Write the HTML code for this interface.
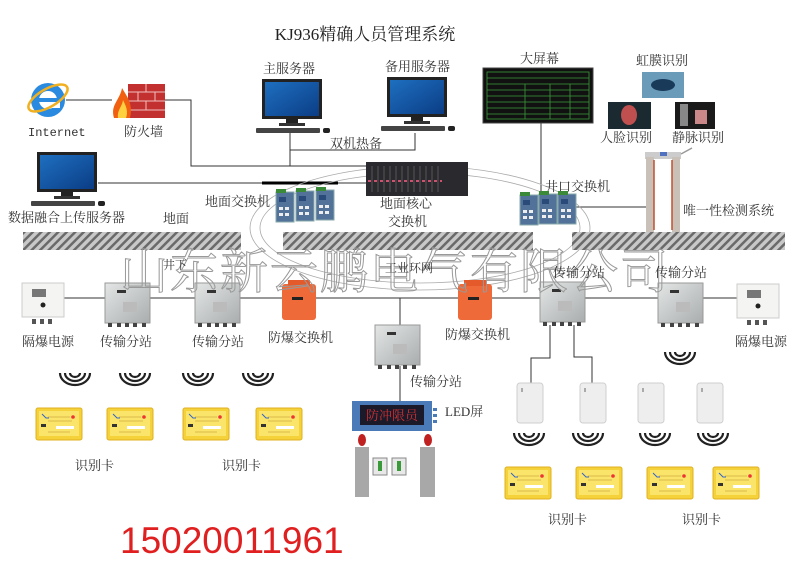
<!DOCTYPE html>
<html><head><meta charset="utf-8"><style>
html,body{margin:0;padding:0;background:#fff;}
svg{display:block;font-family:"Liberation Serif","Noto Serif CJK SC","Noto Sans CJK SC",serif;}
</style></head><body>
<svg width="810" height="565" viewBox="0 0 810 565" xmlns="http://www.w3.org/2000/svg">
<defs>
<pattern id="hatch" width="6" height="6" patternUnits="userSpaceOnUse" patternTransform="rotate(45)">
<rect width="6" height="6" fill="#c8c8c8"/><rect width="2.5" height="6" fill="#6a6a6a"/>
</pattern>
<linearGradient id="scr" x1="0" y1="0" x2="1" y2="1"><stop offset="0" stop-color="#1e6fc0"/><stop offset="1" stop-color="#0b3d85"/></linearGradient>
<linearGradient id="steel" x1="0" y1="0" x2="1" y2="1"><stop offset="0" stop-color="#e4e6e6"/><stop offset="1" stop-color="#a9adad"/></linearGradient>
<g id="mon"><rect x="0" y="0" width="60" height="40" fill="#222"/><rect x="3" y="3" width="54" height="34" fill="url(#scr)"/><rect x="24" y="40" width="12" height="4" fill="#222"/><rect x="17" y="44" width="26" height="3" fill="#333"/><rect x="-6" y="49" width="64" height="5" rx="1" fill="#444"/><rect x="61" y="49" width="7" height="5" rx="2" fill="#222"/></g>
<g id="sta"><rect x="0" y="0" width="45" height="40" fill="url(#steel)" stroke="#999"/><rect x="12" y="7" width="9" height="3" fill="#333"/><rect x="18" y="19" width="14" height="10" fill="#bbb"/><g fill="#444"><rect x="3" y="40" width="4" height="4"/><rect x="12" y="40" width="4" height="4"/><rect x="20" y="40" width="4" height="4"/><rect x="28" y="40" width="4" height="4"/><rect x="37" y="40" width="4" height="4"/></g></g>
<g id="pw"><rect x="0" y="0" width="42" height="34" fill="#f4f4f2" stroke="#ccc"/><rect x="10" y="6" width="14" height="8" fill="#777"/><circle cx="21" cy="22" r="2.5" fill="#222"/><g fill="#555"><rect x="10" y="36" width="4" height="5"/><rect x="18" y="36" width="4" height="5"/><rect x="26" y="36" width="4" height="5"/></g></g>
<g id="orng"><rect x="0" y="4" width="34" height="36" rx="3" fill="#ee6a38"/><rect x="6" y="0" width="22" height="6" fill="#e55a2a"/><rect x="10" y="17" width="11" height="3" fill="#222"/></g>
<g id="card"><rect x="0" y="0" width="46" height="32" rx="2" fill="#f5d23a" stroke="#e0b020"/><rect x="3" y="3" width="40" height="25" fill="#fbe46a"/><rect x="5" y="16" width="5" height="3" fill="#333"/><rect x="20" y="18" width="18" height="3" fill="#fff"/><circle cx="37" cy="9" r="1.8" fill="#e33"/><path d="M6 6 l4 4 h3" stroke="#36c" fill="none"/><g stroke="#b8902a" stroke-width="0.6"><line x1="12" y1="9" x2="34" y2="9"/><line x1="12" y1="13" x2="36" y2="13"/><line x1="12" y1="24" x2="34" y2="24"/></g></g>
<g id="wave" fill="none" stroke="#222" stroke-width="2.2"><path d="M-5 0 A5 4 0 0 0 5 0"/><path d="M-10 0 A10 8 0 0 0 10 0"/><path d="M-15 0 A15 12 0 0 0 15 0"/></g>
<g id="rdr"><rect x="0" y="0" width="26" height="40" rx="3" fill="#eeeeee" stroke="#cfcfcf"/><rect x="4" y="5" width="2" height="4" fill="#aaa"/></g>
<g id="sw"><rect x="0" y="0" width="18" height="30" fill="#52729a" stroke="#8aa"/><rect x="0" y="-3" width="10" height="4" fill="#3a8a3a"/><rect x="3" y="5" width="7" height="5" fill="#2a4a7a"/><g fill="#eee"><rect x="3" y="15" width="4" height="3"/><rect x="9" y="15" width="4" height="3"/><rect x="3" y="21" width="4" height="3"/><rect x="9" y="21" width="4" height="3"/></g></g>
</defs>

<!-- title -->
<text x="365" y="40" font-size="17" text-anchor="middle" fill="#222">KJ936精确人员管理系统</text>

<!-- lines top -->
<g stroke="#333" stroke-width="1" fill="none">
<path d="M66 100 H112"/><path d="M165 100 H191 V166 H368"/>
<path d="M290 133 V166"/><path d="M290 150 H415 V133"/>
<path d="M98 183 H368"/><path d="M541 122 V192"/><path d="M575 207 H648"/>
<path d="M45 298 H738"/><path d="M400 298 V326"/><path d="M400 366 V401"/>
<path d="M550 325 V358 H531 V383"/><path d="M574 325 V357 H592 V383"/>
</g>
<line x1="262" y1="183" x2="338" y2="183" stroke="#000" stroke-width="3"/>

<!-- ring ellipses -->
<g stroke="#aaa" stroke-width="0.8" fill="none">
<ellipse cx="420" cy="228" rx="170" ry="62"/>
<ellipse cx="420" cy="228" rx="160" ry="55"/>
</g>

<!-- IE -->
<circle cx="48" cy="100" r="17" fill="#2a8ae0"/><circle cx="48" cy="100" r="9" fill="#fff"/><rect x="38" y="98" width="20" height="4" fill="#2a8ae0"/><rect x="48" y="102" width="12" height="6" fill="#fff"/>
<ellipse cx="48" cy="98" rx="22" ry="9" fill="none" stroke="#f0b020" stroke-width="2.5" transform="rotate(-30 48 98)"/>
<text x="28" y="136" font-size="12" fill="#333" font-family="Liberation Mono,monospace">Internet</text>
<!-- firewall -->
<rect x="128" y="84" width="37" height="34" fill="#c23030"/>
<g stroke="#f3c0c0" stroke-width="1"><line x1="128" y1="92" x2="165" y2="92"/><line x1="128" y1="101" x2="165" y2="101"/><line x1="128" y1="110" x2="165" y2="110"/><line x1="146" y1="84" x2="146" y2="92"/><line x1="138" y1="92" x2="138" y2="101"/><line x1="155" y1="92" x2="155" y2="101"/><line x1="146" y1="101" x2="146" y2="110"/></g>
<path d="M114 118 C110 105 120 100 122 88 C128 98 133 104 130 118 Z" fill="#f06010"/><path d="M118 118 C117 110 122 107 123 100 C127 108 128 112 126 118 Z" fill="#ffd040"/>
<text x="124" y="136" font-size="13" fill="#333">防火墙</text>

<!-- servers -->
<text x="263" y="73" font-size="13" fill="#333">主服务器</text>
<use href="#mon" x="262" y="79"/>
<text x="385" y="71" font-size="13" fill="#333">备用服务器</text>
<use href="#mon" x="387" y="77"/>
<text x="330" y="148" font-size="13" fill="#333">双机热备</text>
<use href="#mon" x="37" y="152"/>
<text x="8" y="222" font-size="13" fill="#333">数据融合上传服务器</text>
<text x="163" y="223" font-size="13" fill="#333">地面</text>

<!-- core switch -->
<rect x="366" y="162" width="102" height="34" fill="#2a2a2e"/>
<g stroke="#555" stroke-width="1"><line x1="372" y1="166" x2="372" y2="192"/><line x1="378" y1="166" x2="378" y2="192"/><line x1="384" y1="166" x2="384" y2="192"/><line x1="390" y1="166" x2="390" y2="192"/><line x1="396" y1="166" x2="396" y2="192"/><line x1="402" y1="166" x2="402" y2="192"/><line x1="408" y1="166" x2="408" y2="192"/><line x1="414" y1="166" x2="414" y2="192"/><line x1="420" y1="166" x2="420" y2="192"/><line x1="426" y1="166" x2="426" y2="192"/><line x1="432" y1="166" x2="432" y2="192"/><line x1="438" y1="166" x2="438" y2="192"/></g>
<line x1="368" y1="181" x2="442" y2="181" stroke="#d05070" stroke-width="2" stroke-dasharray="3 3"/>
<text x="380" y="208" font-size="13" fill="#333">地面核心</text>
<text x="388" y="226" font-size="13" fill="#333">交换机</text>

<!-- ground switch -->
<text x="205" y="206" font-size="13" fill="#333">地面交换机</text>
<use href="#sw" x="276" y="192"/><use href="#sw" x="296" y="191"/><use href="#sw" x="316" y="190"/>

<!-- big screen -->
<text x="520" y="63" font-size="13" fill="#333">大屏幕</text>
<rect x="483" y="68" width="110" height="55" fill="#111" stroke="#444"/>
<g fill="none" stroke="#3c9a3c" stroke-width="0.8"><rect x="487" y="72" width="102" height="47"/><line x1="487" y1="78" x2="589" y2="78"/><line x1="487" y1="84" x2="589" y2="84"/><line x1="487" y1="90" x2="589" y2="90"/><line x1="487" y1="96" x2="589" y2="96"/><line x1="487" y1="102" x2="589" y2="102"/><line x1="487" y1="108" x2="589" y2="108"/><line x1="487" y1="114" x2="589" y2="114"/><line x1="525" y1="84" x2="525" y2="119"/><line x1="550" y1="84" x2="550" y2="119"/><line x1="570" y1="84" x2="570" y2="119"/></g>

<!-- well switch -->
<text x="545" y="191" font-size="13" fill="#333">井口交换机</text>
<use href="#sw" x="520" y="195"/><use href="#sw" x="539" y="194"/><use href="#sw" x="558" y="194"/>

<!-- biometrics -->
<text x="636" y="65" font-size="13" fill="#333">虹膜识别</text>
<rect x="642" y="72" width="42" height="26" fill="#6a9cba"/><ellipse cx="663" cy="85" rx="12" ry="6" fill="#1a3a5a"/>
<rect x="608" y="102" width="43" height="27" fill="#1a2a30"/><ellipse cx="629" cy="115" rx="8" ry="10" fill="#c05050"/>
<rect x="675" y="102" width="40" height="27" fill="#1a1a1a"/><rect x="680" y="104" width="8" height="22" fill="#888"/><rect x="695" y="110" width="12" height="14" fill="#c88"/>
<text x="600" y="142" font-size="13" fill="#333">人脸识别</text>
<text x="672" y="142" font-size="13" fill="#333">静脉识别</text>
<!-- gate detector -->
<rect x="645" y="152" width="36" height="7" fill="#ccc"/>
<rect x="646" y="157" width="8" height="75" fill="#c9c0b8"/><rect x="672" y="157" width="8" height="75" fill="#c9c0b8"/>
<line x1="654" y1="160" x2="654" y2="230" stroke="#c05030" stroke-width="1.5"/><line x1="672" y1="160" x2="672" y2="230" stroke="#c05030" stroke-width="1.5"/>
<rect x="660" y="152" width="7" height="4" fill="#5070c0"/><path d="M681 154 L692 148" stroke="#999" stroke-width="1.5"/>
<text x="683" y="215" font-size="13" fill="#333">唯一性检测系统</text>

<!-- ground bars -->
<rect x="23" y="232" width="218" height="18" fill="url(#hatch)"/>
<rect x="283" y="232" width="250" height="18" fill="url(#hatch)"/>
<rect x="572" y="232" width="213" height="18" fill="url(#hatch)"/>

<!-- underground devices -->
<use href="#pw" x="22" y="283"/>
<use href="#sta" x="105" y="283"/>
<use href="#sta" x="195" y="283"/>
<use href="#orng" x="282" y="280"/>
<use href="#orng" x="458" y="280"/>
<use href="#sta" x="540" y="282"/>
<use href="#sta" x="658" y="283"/>
<use href="#pw" x="737" y="284"/>
<use href="#sta" x="375" y="325"/>

<!-- watermark -->
<text x="120" y="288" font-size="48" fill="none" stroke="#999" stroke-width="1" letter-spacing="2">山东新云鹏电气有限公司</text>

<text x="163" y="269" font-size="12" fill="#333">井下</text>
<text x="385" y="272" font-size="12" fill="#333">工业环网</text>
<text x="553" y="277" font-size="13" fill="#333">传输分站</text>
<text x="655" y="277" font-size="13" fill="#333">传输分站</text>

<g font-size="13" fill="#333">
<text x="22" y="346">隔爆电源</text>
<text x="100" y="346">传输分站</text>
<text x="192" y="346">传输分站</text>
<text x="268" y="342">防爆交换机</text>
<text x="445" y="339">防爆交换机</text>
<text x="735" y="346">隔爆电源</text>
<text x="410" y="386">传输分站</text>
<text x="445" y="416">LED屏</text>
<text x="75" y="470">识别卡</text>
<text x="222" y="470">识别卡</text>
<text x="548" y="524">识别卡</text>
<text x="682" y="524">识别卡</text>
</g>

<!-- waves -->
<use href="#wave" x="75" y="373"/><use href="#wave" x="135" y="373"/><use href="#wave" x="198" y="373"/><use href="#wave" x="258" y="373"/>
<use href="#wave" x="680" y="352"/>
<use href="#wave" x="529" y="433"/><use href="#wave" x="588" y="433"/><use href="#wave" x="655" y="433"/><use href="#wave" x="713" y="433"/>

<!-- cards -->
<use href="#card" x="36" y="408"/><use href="#card" x="107" y="408"/><use href="#card" x="183" y="408"/><use href="#card" x="256" y="408"/>
<use href="#card" x="505" y="467"/><use href="#card" x="576" y="467"/><use href="#card" x="647" y="467"/><use href="#card" x="713" y="467"/>

<!-- readers -->
<use href="#rdr" x="517" y="383"/><use href="#rdr" x="580" y="383"/><use href="#rdr" x="638" y="383"/><use href="#rdr" x="697" y="383"/>

<!-- LED screen -->
<rect x="352" y="401" width="80" height="30" fill="#4a7ab8"/><rect x="360" y="405" width="64" height="20" fill="#1a1a2a"/>
<text x="392" y="420" font-size="13" fill="#d03030" text-anchor="middle">防冲限员</text>
<g fill="#4a7ab8"><rect x="433" y="408" width="4" height="3"/><rect x="433" y="414" width="4" height="3"/><rect x="433" y="420" width="4" height="3"/></g>
<!-- turnstile -->
<ellipse cx="362" cy="440" rx="4" ry="6" fill="#c02020"/><ellipse cx="428" cy="440" rx="4" ry="6" fill="#c02020"/>
<rect x="355" y="447" width="14" height="50" fill="#a8a8a8"/><rect x="420" y="447" width="15" height="50" fill="#a8a8a8"/>
<rect x="373" y="458" width="14" height="17" fill="#e8e8e8" stroke="#888"/><rect x="392" y="458" width="14" height="17" fill="#e8e8e8" stroke="#888"/>
<rect x="378" y="461" width="4" height="10" fill="#3a9a3a"/><rect x="397" y="461" width="4" height="10" fill="#3a9a3a"/>

<!-- phone -->
<text x="120" y="553" font-size="37" fill="#e02020" font-family="Liberation Sans,sans-serif">15020011961</text>
</svg>
</body></html>
